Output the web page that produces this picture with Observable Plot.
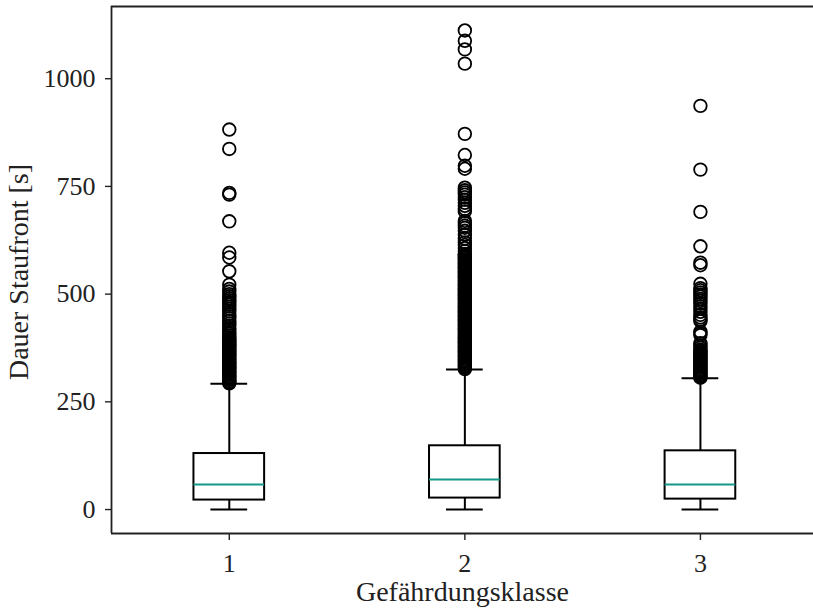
<!DOCTYPE html>
<html>
<head>
<meta charset="utf-8">
<script src="https://cdn.jsdelivr.net/npm/d3@7"></script>
<script src="https://cdn.jsdelivr.net/npm/@observablehq/plot@0.6"></script>
<style>
  html, body { margin: 0; padding: 0; background: #fff; }
  #chart svg { display: block; }
</style>
</head>
<body>
<div id="chart"></div>
<script>
// ---- data ----
const classes = [1, 2, 3];
const q1 = [22, 26.6, 24.2];
const median = [58, 69.7, 58];
const q3 = [130, 148, 136.3];
const whiskerLow = [0, 0, 0];
const whiskerHigh = [292, 325, 305];
const outliers1 = [293, 295, 298, 301, 304, 307, 310, 313, 316, 319, 322, 325, 328, 331, 334, 337, 340, 343, 346, 349, 352, 355, 358, 361, 364, 367, 370, 373, 376, 379, 382, 385, 388, 391, 394, 397, 400, 404, 408, 412, 417, 421, 427, 432, 438, 444, 449, 454, 460, 466, 471, 476, 481, 486, 490, 495, 500, 506, 512, 522, 553, 585, 596, 669, 731, 735, 837, 882];
const outliers2 = [326, 329, 332, 335, 338, 341, 344, 347, 350, 353, 356, 359, 362, 365, 368, 371, 374, 377, 380, 383, 386, 389, 392, 395, 398, 401, 404, 407, 410, 413, 416, 419, 422, 425, 428, 431, 434, 437, 440, 443, 446, 449, 452, 455, 458, 461, 464, 467, 470, 473, 476, 479, 482, 485, 488, 491, 494, 497, 500, 503, 506, 509, 512, 515, 518, 521, 524, 527, 530, 533, 536, 539, 542, 545, 548, 551, 554, 557, 560, 563, 566, 569, 572, 575, 578, 581, 584, 587, 590, 593, 600, 607, 614, 620, 629, 638, 647, 654, 659, 665, 670, 692, 698, 705, 712, 719, 725, 731, 736, 741, 747, 791, 798, 823, 872, 1035, 1068, 1088, 1112];
const outliers3 = [306, 308, 311, 314, 317, 320, 323, 326, 329, 332, 335, 338, 341, 344, 347, 350, 353, 356, 359, 362, 365, 368, 371, 376, 381, 386, 405, 409, 413, 437, 441, 446, 452, 459, 466, 472, 478, 484, 489, 494, 499, 504, 509, 514, 524, 567, 573, 611, 691, 789, 937];
const yTicks = [0, 250, 500, 750, 1000];
const xTickLabels = ["1", "2", "3"];
const xLabel = "Gefährdungsklasse";
const yLabel = "Dauer Staufront [s]";

// ---- derived tables ----
const boxes = classes.map((c, i) => ({c, q1: q1[i], med: median[i], q3: q3[i], lo: whiskerLow[i], hi: whiskerHigh[i]}));
const outlierSets = [outliers1, outliers2, outliers3];
const outliers = outlierSets.flatMap((arr, i) => arr.map(v => ({c: classes[i], v})));

const halfBox = 0.15, halfCap = 0.078;
const yDomain = [-55.6, 1167.6];
const xDomain = [0.5, 3.48];
const ink = "#000";
const spine = "#222";
const medianColor = "#13998a";
const font = "'Liberation Serif', 'Times New Roman', serif";
const lw = 2;

const chart = Plot.plot({
  width: 813,
  height: 610,
  marginLeft: 111,
  marginRight: 0,
  marginTop: 6,
  marginBottom: 77,
  style: {fontFamily: font, background: "#fff", color: spine},
  x: {type: "linear", domain: xDomain},
  y: {type: "linear", domain: yDomain},
  marks: [
    // spines (right spine is cropped out of the picture)
    Plot.ruleX([xDomain[0]], {stroke: spine, strokeWidth: 1.8}),
    Plot.ruleY([yDomain[0]], {stroke: spine, strokeWidth: 1.8}),
    Plot.ruleY([yDomain[1]], {stroke: spine, strokeWidth: 1.8}),
    // axes
    Plot.axisY({ticks: yTicks, tickSize: 6, tickPadding: 10, fontSize: 26, label: null, stroke: spine, strokeWidth: 1.4, tickFormat: d => String(d)}),
    Plot.axisX({ticks: classes, tickSize: 7, tickPadding: 13, fontSize: 26, label: null, stroke: spine, strokeWidth: 1.4, tickFormat: (d, i) => xTickLabels[i]}),
    // whiskers
    Plot.ruleX(boxes, {x: "c", y1: "q3", y2: "hi", stroke: ink, strokeWidth: lw}),
    Plot.ruleX(boxes, {x: "c", y1: "lo", y2: "q1", stroke: ink, strokeWidth: lw}),
    // caps
    Plot.ruleY(boxes, {y: "hi", x1: d => d.c - halfCap, x2: d => d.c + halfCap, stroke: ink, strokeWidth: lw}),
    Plot.ruleY(boxes, {y: "lo", x1: d => d.c - halfCap, x2: d => d.c + halfCap, stroke: ink, strokeWidth: lw}),
    // boxes
    Plot.rect(boxes, {x1: d => d.c - halfBox, x2: d => d.c + halfBox, y1: "q1", y2: "q3", fill: "none", stroke: ink, strokeWidth: lw}),
    // medians
    Plot.ruleY(boxes, {y: "med", x1: d => d.c - halfBox, x2: d => d.c + halfBox, stroke: medianColor, strokeWidth: lw}),
    // outliers
    Plot.dot(outliers, {x: "c", y: "v", r: 6.3, fill: "none", stroke: ink, strokeWidth: 1.8}),
    // axis titles
    Plot.text([xLabel], {text: d => d, frameAnchor: "bottom", textAnchor: "middle", dy: 67, fontSize: 28, fill: spine, lineAnchor: "bottom"}),
    Plot.text([yLabel], {text: d => d, frameAnchor: "left", textAnchor: "middle", dx: -103, dy: 2, rotate: -90, fontSize: 28, fill: spine, lineAnchor: "top"})
  ]
});
document.getElementById("chart").appendChild(chart);
</script>
</body>
</html>
